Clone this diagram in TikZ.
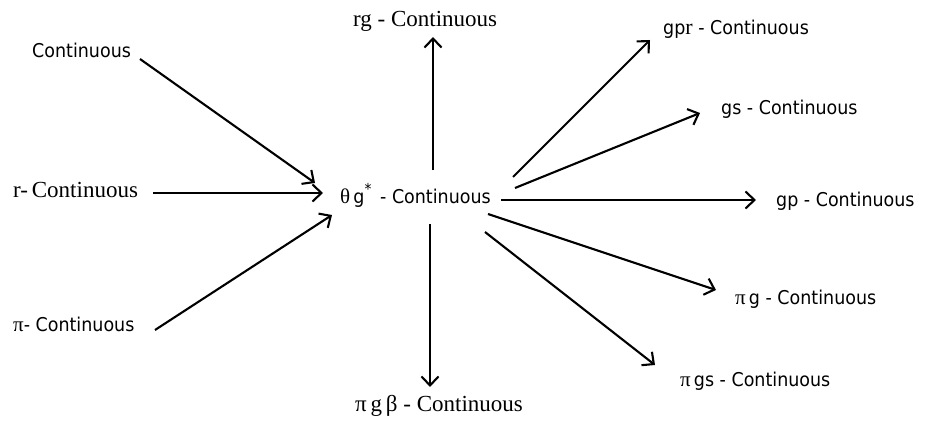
\documentclass[tikz,border=0pt]{standalone}
\usepackage{fontspec}
\setmainfont{Liberation Serif}
\newfontfamily\sansf[FakeStretch=0.92]{DejaVu Sans}
\newfontfamily\serf{Liberation Serif}
\usetikzlibrary{arrows.meta}
\begin{document}
\begin{tikzpicture}[x=1pt,y=-1pt,
  lbls/.style={anchor=base west,inner sep=0pt,font=\sansf\fontsize{19}{22}\selectfont},
  lblr/.style={anchor=base west,inner sep=0pt,font=\serf\fontsize{23}{26}\selectfont},
  arr/.style={line width=2.1pt,-{Straight Barb[length=9pt,width=17pt]}}]
\useasboundingbox[fill=white] (0,0) rectangle (926,425);
% nodes
\node[lbls] (cont) at (32,58) {Continuous};
\node[lblr] (rcont) at (13,197) {r-\,Continuous};
\node[lbls] (picont) at (13,331) {{\serf\fontsize{21}{24}\selectfont π}- Continuous};
\node[lbls] (tg) at (340,203) {{\serf\fontsize{21}{24}\selectfont θ}\,g\raisebox{9pt}{\fontsize{15}{16}\selectfont *}\, - Continuous};
\node[lblr] (rg) at (353,27) {rg - Continuous};
\node[lbls] (gpr) at (663,35) {gp{\serf\fontsize{22}{24}\selectfont r} - Continuous};
\node[lbls] (gs) at (721,115) {gs - Continuous};
\node[lbls] (gp) at (776,206) {gp - Continuous};
\node[lbls] (pig) at (735,304) {{\serf\fontsize{21}{24}\selectfont π}\,g - Continuous};
\node[lbls] (pigs) at (680,386) {{\serf\fontsize{21}{24}\selectfont π}\,gs - Continuous};
\node[lblr] (pigb) at (355,411) {π\,g\,β - Continuous};
% connector ends
\coordinate (a1s) at (140,59);  \coordinate (a1e) at (315,183);
\coordinate (a2s) at (153,193); \coordinate (a2e) at (323,193);
\coordinate (a3s) at (155,330); \coordinate (a3e) at (332,215);
\coordinate (a4s) at (433,170); \coordinate (a4e) at (433,37);
\coordinate (a5s) at (430,224); \coordinate (a5e) at (430,387);
\coordinate (a6s) at (513,177); \coordinate (a6e) at (650,40);
\coordinate (a7s) at (515,188); \coordinate (a7e) at (700,113);
\coordinate (a8s) at (501,200); \coordinate (a8e) at (756,200);
\coordinate (a9s) at (488,214); \coordinate (a9e) at (716,290);
\coordinate (a10s) at (485,232); \coordinate (a10e) at (655,365);
\draw[arr] (a1s) -- (a1e);
\draw[arr] (a2s) -- (a2e);
\draw[arr] (a3s) -- (a3e);
\draw[arr] (a4s) -- (a4e);
\draw[arr] (a5s) -- (a5e);
\draw[arr] (a6s) -- (a6e);
\draw[arr] (a7s) -- (a7e);
\draw[arr] (a8s) -- (a8e);
\draw[arr] (a9s) -- (a9e);
\draw[arr] (a10s) -- (a10e);
\end{tikzpicture}
\end{document}
